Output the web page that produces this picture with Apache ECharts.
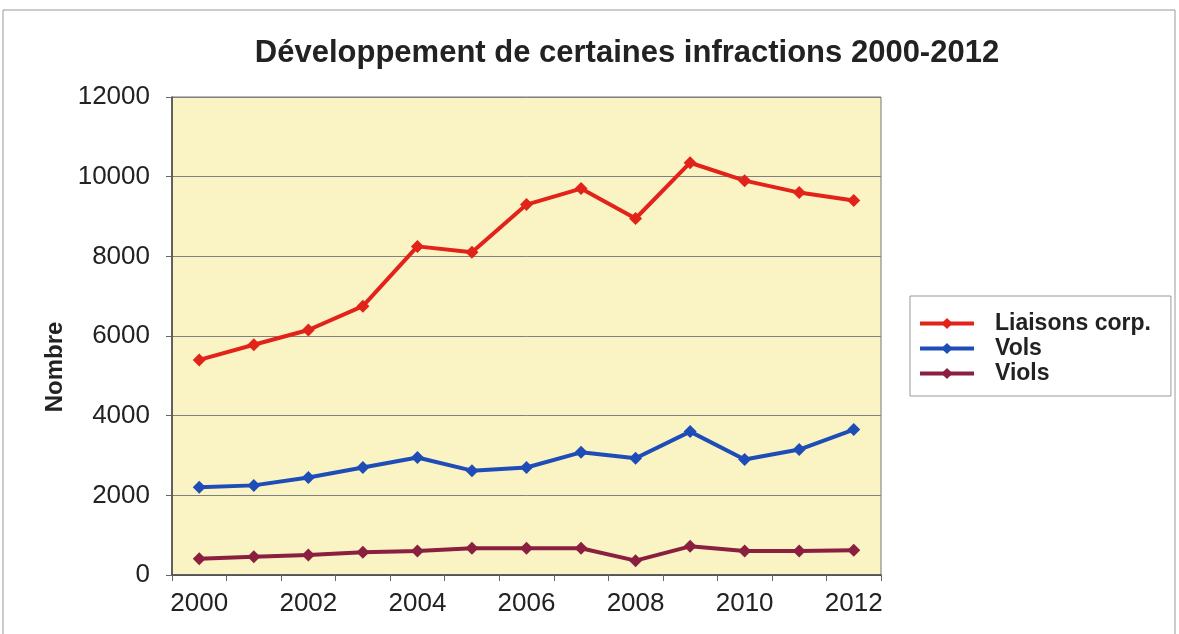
<!DOCTYPE html>
<html><head><meta charset="utf-8">
<script src="https://cdn.jsdelivr.net/npm/echarts@6/dist/echarts.min.js"></script>
<style>html,body{margin:0;padding:0;background:#fff}#c{width:1179px;height:634px}</style>
</head><body><div id="c"></div>
<script>
const years = ['2000','2001','2002','2003','2004','2005','2006','2007','2008','2009','2010','2011','2012'];
const liaisons = [5400, 5780, 6150, 6750, 8250, 8100, 9300, 9700, 8950, 10350, 9900, 9600, 9400];
const vols = [2200, 2250, 2450, 2700, 2950, 2620, 2700, 3080, 2930, 3600, 2900, 3150, 3650];
const viols = [410, 460, 500, 570, 600, 670, 670, 670, 360, 720, 600, 600, 620];
const seriesNames = ['Liaisons corp.', 'Vols', 'Viols'];
const colors = ['#E2231A', '#1E4DB7', '#8B1F3F'];
const FONT = '"Liberation Sans", Arial, sans-serif';

const chart = echarts.init(document.getElementById('c'));
function mk(name, data, color) {
  return {
    name, type: 'line', data,
    symbol: 'diamond', symbolSize: 13,
    lineStyle: { width: 4, color },
    itemStyle: { color },
    emphasis: { disabled: true }
  };
}
chart.setOption({
  animation: false,
  title: {
    text: 'Développement de certaines infractions 2000-2012',
    left: 622, top: 33, textAlign: 'center',
    textStyle: { fontFamily: FONT, fontSize: 31, fontWeight: 'bold', color: '#222' }
  },
  graphic: [
    { type: 'rect', shape: { x: 3, y: 10, width: 1172, height: 640 }, style: { fill: 'none', stroke: '#999', lineWidth: 1 }, silent: true, z: -1 },
    { type: 'text', x: 55, y: 367, rotation: Math.PI / 2,
      style: { text: 'Nombre', font: 'bold 24px ' + FONT, fill: '#222', align: 'center', verticalAlign: 'middle' } }
  ],
  legend: {
    orient: 'vertical', left: 910, top: 296,
    data: seriesNames,
    itemWidth: 54, itemHeight: 14, itemGap: 0,
    padding: [15, 20, 10, 8],
    borderColor: '#999', borderWidth: 1, backgroundColor: '#fff',
    lineStyle: { width: 4 },
    textStyle: { fontFamily: FONT, fontSize: 23, fontWeight: 'bold', color: '#222', lineHeight: 25, padding: [0, 0, 0, 16] }
  },
  grid: { left: 172, right: 298, top: 97, bottom: 59, show: true, backgroundColor: '#FAF3C4', borderColor: '#777', borderWidth: 1 },
  xAxis: {
    type: 'category', data: years, boundaryGap: true,
    axisLine: { lineStyle: { color: '#444', width: 1.5 } },
    axisTick: { show: true, interval: 0, length: 6, lineStyle: { color: '#666' } },
    axisLabel: { interval: 1, fontFamily: FONT, fontSize: 26, color: '#222', margin: 16 },
    splitLine: { show: false }
  },
  yAxis: {
    type: 'value', min: 0, max: 12000, interval: 2000,
    axisLine: { show: true, lineStyle: { color: '#444', width: 1.5 } },
    axisTick: { show: true, length: 6, lineStyle: { color: '#666' } },
    axisLabel: { fontFamily: FONT, fontSize: 26, color: '#222', margin: 22, formatter: v => String(v) },
    splitLine: { lineStyle: { color: '#808080', width: 1 } }
  },
  series: [
    mk(seriesNames[0], liaisons, colors[0]),
    mk(seriesNames[1], vols, colors[1]),
    mk(seriesNames[2], viols, colors[2])
  ]
});
</script></body></html>
